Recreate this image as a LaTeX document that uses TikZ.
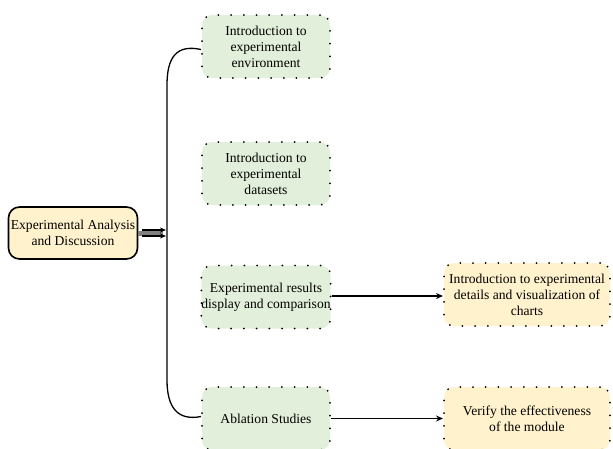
\documentclass[tikz,border=0pt]{standalone}
\usepackage{fontspec}
\setmainfont{Liberation Serif}
\usetikzlibrary{arrows.meta}
\definecolor{gfill}{HTML}{E2EFDA}
\definecolor{yfill}{HTML}{FFF2CC}
\tikzset{
  dotbox/.style={draw=black, rounded corners=10pt, line width=2pt, line cap=round,
    dash pattern=on 0pt off 12.7pt, align=center, inner sep=0pt,
    font=\fontsize{13.6}{16}\selectfont},
  greenbox/.style={dotbox, fill=gfill, minimum width=128pt, minimum height=63pt},
  yelbox/.style={dotbox, fill=yfill, minimum width=166pt, minimum height=63pt},
  rootbox/.style={draw=black, line width=1.6pt, rounded corners=11pt, fill=yfill,
    minimum width=129pt, minimum height=52pt, align=center, inner sep=0pt,
    font=\fontsize{13.6}{16}\selectfont},
  conn/.style={line width=1.3pt, -{Stealth[length=7pt,width=6pt]}},
}
\begin{document}
\begin{tikzpicture}[x=1pt,y=-1pt]
\useasboundingbox (0,0) rectangle (613,448);
\node[rootbox] (root) at (73,233) {Experimental Analysis\\and Discussion};
\node[greenbox] (b1) at (266,46.5) {Introduction to\\experimental\\environment};
\node[greenbox] (b2) at (266,173.5) {Introduction to\\experimental\\datasets};
\node[greenbox] (b3) at (266,297) {Experimental results\\display and comparison};
\node[greenbox] (b4) at (266,418.5) {Ablation Studies};
\node[yelbox] (b5) at (527,294.5) {Introduction to experimental\\details and visualization of\\charts};
\node[yelbox] (b6) at (527,418.5) {Verify the effectiveness\\of the module};
\coordinate (vt) at (167,85);
\coordinate (vb) at (167,380);
\coordinate (rj) at (166,233);
\draw[line width=1.3pt] ([yshift=-3pt]b1.west) .. controls (176,44) and (167,58) .. (vt) -- (vb)
  .. controls (167,408) and (178,421) .. ([yshift=2pt]b4.west);
\draw[line width=5pt, gray] (root.east) -- ([xshift=-3pt]rj);
\draw[line width=1.2pt, -{Stealth[length=6pt,width=5pt]}] ([yshift=-3pt,xshift=4pt]root.east) -- ([yshift=-3pt]rj);
\draw[line width=1.2pt, -{Stealth[length=6pt,width=5pt]}] ([yshift=3pt,xshift=4pt]root.east) -- ([yshift=3pt]rj);
\draw[conn] ([yshift=1pt]b3.east) -- ([yshift=1pt]b3.east -| b5.west);
\draw[conn] (b4.east) -- (b6.west);
\end{tikzpicture}
\end{document}
